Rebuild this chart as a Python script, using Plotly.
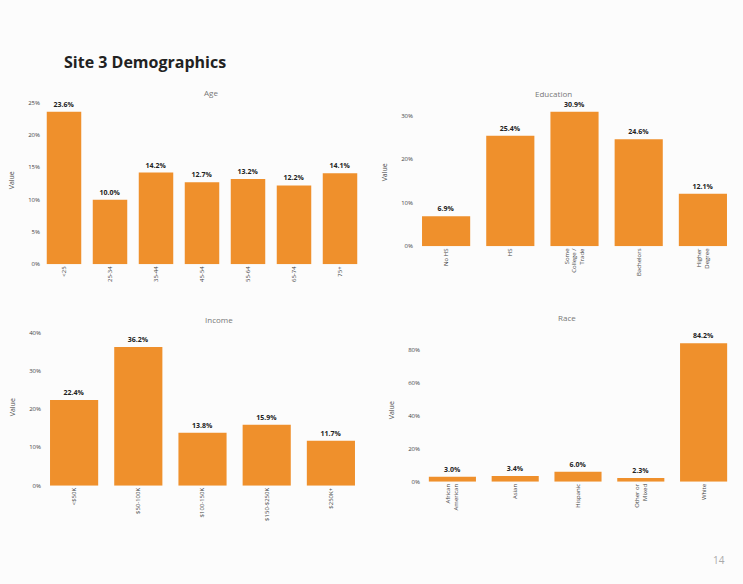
import plotly.graph_objects as go

W, H = 743, 584

age_labels = ["<25", "25-34", "35-44", "45-54", "55-64", "65-74", "75+"]
age_values = [23.6, 10.0, 14.2, 12.7, 13.2, 12.2, 14.1]

edu_labels = ["No HS", "HS", "Some<br>College /<br>Trade", "Bachelors", "Higher<br>Degree"]
edu_values = [6.9, 25.4, 30.9, 24.6, 12.1]

inc_labels = ["<$50K", "$50-100K", "$100-150K", "$150-$250K", "$250K+"]
inc_values = [22.4, 36.2, 13.8, 15.9, 11.7]

race_labels = ["African<br>American", "Asian", "Hispanic", "Other or<br>Mixed", "White"]
race_values = [3.0, 3.4, 6.0, 2.3, 84.2]

panels = [
    ("Age", age_labels, age_values, [41, 363], [97, 266], 26, 5),
    ("Education", edu_labels, edu_values, [414, 735], [99, 248], 34, 10),
    ("Income", inc_labels, inc_values, [42, 363], [331, 489], 41, 10),
    ("Race", race_labels, race_values, [421, 735], [341, 485], 87, 20),
]

BAR = "#EF902C"
fig = go.Figure()
layout = {}
for i, (name, labels, values, xpx, ypx, ymax, dt) in enumerate(panels, start=1):
    xa = "x" if i == 1 else f"x{i}"
    ya = "y" if i == 1 else f"y{i}"
    fig.add_trace(go.Bar(
        x=labels, y=values, xaxis=xa, yaxis=ya,
        marker=dict(color=BAR, line=dict(width=0)),
        text=[f"<b>{v:.1f}%</b>" for v in values], textposition="outside",
        textfont=dict(size=7, color="#222222", family="Open Sans"),
        cliponaxis=False, showlegend=False,
    ))
    xk = "xaxis" if i == 1 else f"xaxis{i}"
    yk = "yaxis" if i == 1 else f"yaxis{i}"
    layout[xk] = dict(
        domain=[xpx[0] / W, xpx[1] / W], anchor=ya, tickangle=-90,
        tickfont=dict(size=6, color="#444444", family="Open Sans"),
        showgrid=False, showline=False, zeroline=False, ticks="",
    )
    layout[yk] = dict(
        domain=[1 - ypx[1] / H, 1 - ypx[0] / H], anchor=xa,
        range=[0, ymax], dtick=dt, ticksuffix="%",
        tickfont=dict(size=6, color="#444444", family="Open Sans"),
        showgrid=False, showline=False, zeroline=False,
        title=dict(text="Value", font=dict(size=7, color="#444444", family="Open Sans"), standoff=12),
    )

annotations = [
    dict(text="<b>Site 3 Demographics</b>", x=62 / W, y=1 - 62 / H, xref="paper", yref="paper",
         xanchor="left", yanchor="middle", showarrow=False,
         font=dict(size=16, color="#222222", family="Open Sans")),
    dict(text="Age", x=202 / W, y=1 - 86 / H, xref="paper", yref="paper", showarrow=False,
         font=dict(size=8, color="#777777", family="Open Sans")),
    dict(text="Education", x=574 / W, y=1 - 87 / H, xref="paper", yref="paper", showarrow=False,
         font=dict(size=8, color="#777777", family="Open Sans")),
    dict(text="Income", x=203 / W, y=1 - 322 / H, xref="paper", yref="paper", showarrow=False,
         font=dict(size=8, color="#777777", family="Open Sans")),
    dict(text="Race", x=578 / W, y=1 - 320 / H, xref="paper", yref="paper", showarrow=False,
         font=dict(size=8, color="#777777", family="Open Sans")),
    dict(text="14", x=727 / W, y=1 - 573 / H, xref="paper", yref="paper", showarrow=False,
         font=dict(size=10, color="#aaaaaa", family="Open Sans")),
]

fig.update_layout(
    width=W, height=H, margin=dict(l=0, r=0, t=0, b=0),
    paper_bgcolor="#fcfcfc", plot_bgcolor="#fcfcfc",
    bargap=0.25, annotations=annotations, **layout,
)
fig.write_html("out.html")
